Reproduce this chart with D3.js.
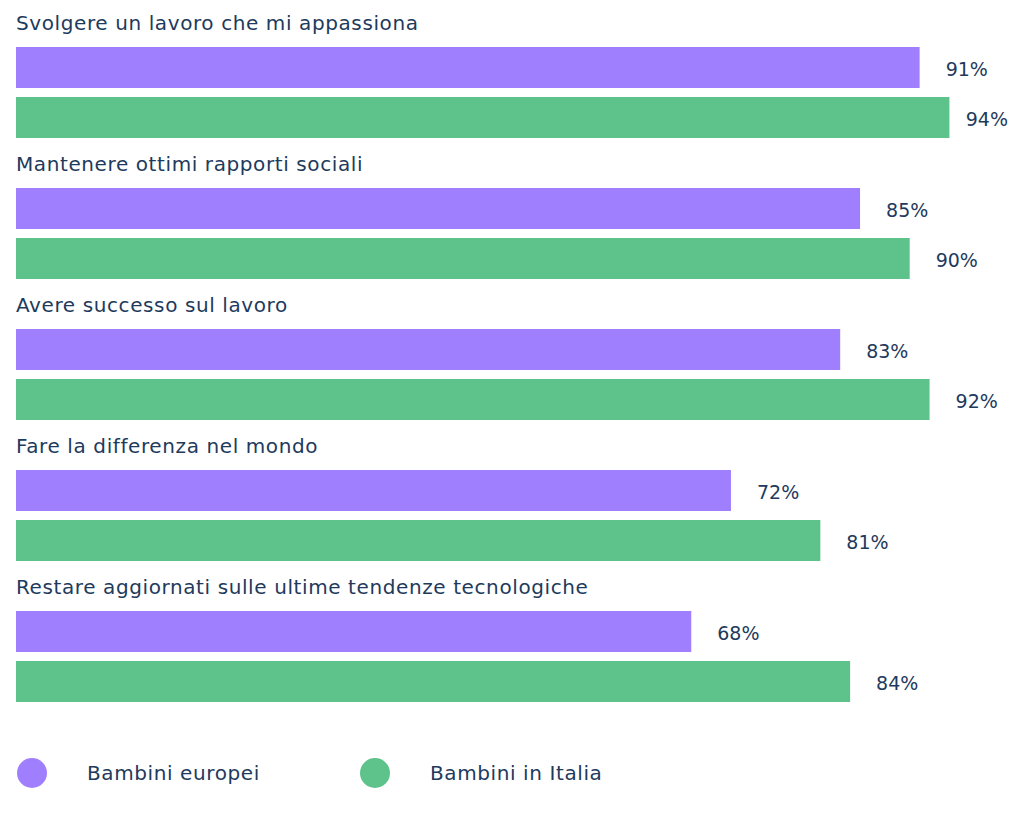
<!DOCTYPE html>
<html>
<head>
<meta charset="utf-8">
<script src="https://cdn.jsdelivr.net/npm/d3@7"></script>
<style>
  body { margin: 0; background: #fff; }
  text { font-family: 'DejaVu Sans', sans-serif; fill: #1e3a5c; }
</style>
</head>
<body>
<svg width="1024" height="817"></svg>
<script>
// data
var categories = [
    'Svolgere un lavoro che mi appassiona',
    'Mantenere ottimi rapporti sociali',
    'Avere successo sul lavoro',
    'Fare la differenza nel mondo',
    'Restare aggiornati sulle ultime tendenze tecnologiche'
];
var seriesNames = ['Bambini europei', 'Bambini in Italia'];
var europei = [91, 85, 83, 72, 68];
var italia = [94, 90, 92, 81, 84];
var colors = ['#a07fff', '#5ec28b'];

var svg = d3.select('svg');

var rows = categories.map(function(c, i) {
    return {cat: c, values: [europei[i], italia[i]]};
});

var xScale = d3.scaleLinear()
    .domain([0, 100])
    .range([16, 1009]);

// each group: label above two bars
var yGroup = d3.scaleBand()
    .domain(categories)
    .range([47, 47 + 141 * categories.length]);

var ySeries = d3.scaleBand()
    .domain([0, 1])
    .range([0, 91])
    .paddingInner(0.18);

var groups = svg.selectAll('.group')
    .data(rows)
    .enter()
    .append('g')
    .attr('class', 'group')
    .attr('transform', function(d) { return 'translate(0,' + yGroup(d.cat) + ')'; });

groups.append('text')
    .attr('class', 'cat-label')
    .attr('x', 16)
    .attr('y', -17)
    .style('font-size', '20px')
    .style('letter-spacing', '0.6px')
    .text(function(d) { return d.cat; });

var bars = groups.selectAll('.bar')
    .data(function(d) { return d.values.map(function(v, j) { return {v: v, j: j}; }); })
    .enter();

bars.append('rect')
    .attr('class', 'bar')
    .attr('x', xScale(0))
    .attr('y', function(d) { return ySeries(d.j); })
    .attr('width', function(d) { return xScale(d.v) - xScale(0); })
    .attr('height', ySeries.bandwidth())
    .attr('fill', function(d) { return colors[d.j]; });

bars.append('text')
    .attr('class', 'value-label')
    .attr('y', function(d) { return ySeries(d.j) + ySeries.bandwidth() / 2 + 8; })
    .style('font-size', '19px')
    .text(function(d) { return d.v + '%'; })
    .attr('x', function(d) {
        // keep the label inside the right edge
        var w = this.getComputedTextLength();
        return Math.min(xScale(d.v) + 26, 1008 - w);
    });

// legend
var legendX = [32, 375];
var legend = svg.selectAll('.legend')
    .data(seriesNames)
    .enter()
    .append('g')
    .attr('class', 'legend')
    .attr('transform', function(d, i) { return 'translate(' + legendX[i] + ',773)'; });

legend.append('circle')
    .attr('r', 15)
    .attr('fill', function(d, i) { return colors[i]; });

legend.append('text')
    .attr('x', 55)
    .attr('y', 7)
    .style('font-size', '20px')
    .style('letter-spacing', '0.6px')
    .text(function(d) { return d; });
</script>
</body>
</html>
